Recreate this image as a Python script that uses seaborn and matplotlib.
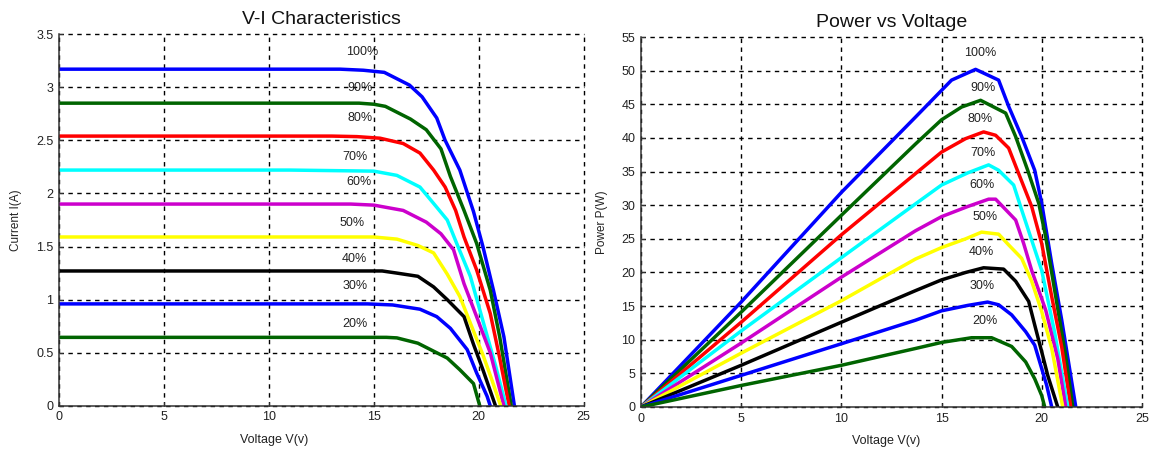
import numpy as np
import pandas as pd
import matplotlib
matplotlib.use("Agg")
import matplotlib.pyplot as plt
import seaborn as sns

# ---------------- data ----------------
levels = ["100%", "90%", "80%", "70%", "60%", "50%", "40%", "30%", "20%"]
colors = ["#0000ff", "#006400", "#ff0000", "#00ffff", "#cc00cc",
          "#ffff00", "#000000", "#0000ff", "#006400"]

# V-I characteristics (voltage V, current A)
vi_v_100 = [0, 13.4, 14.5, 15.5, 16.1, 16.7, 17.3, 18.0, 18.4, 19.1, 19.75, 20.2, 20.7, 21.2, 21.7]
vi_i_100 = [3.17, 3.17, 3.16, 3.14, 3.08, 3.02, 2.91, 2.71, 2.50, 2.22, 1.83, 1.50, 1.09, 0.65, 0.0]
vi_v_90 = [0, 14.3, 15.0, 15.55, 16.75, 17.5, 18.2, 18.65, 19.3, 19.9, 20.55, 21.0, 21.55]
vi_i_90 = [2.85, 2.85, 2.84, 2.82, 2.70, 2.60, 2.42, 2.16, 1.84, 1.53, 1.09, 0.65, 0.0]
vi_v_80 = [0, 13.0, 14.2, 15.3, 16.4, 17.2, 17.85, 18.4, 18.9, 19.3, 19.9, 20.55, 21.0, 21.45]
vi_i_80 = [2.54, 2.54, 2.535, 2.52, 2.47, 2.38, 2.22, 2.06, 1.84, 1.59, 1.28, 0.87, 0.45, 0.0]
vi_v_70 = [0, 11.0, 15.0, 16.1, 17.2, 18.0, 18.5, 18.95, 19.6, 20.2, 20.8, 21.3]
vi_i_70 = [2.22, 2.22, 2.21, 2.17, 2.06, 1.87, 1.75, 1.53, 1.22, 0.80, 0.38, 0.0]
vi_v_60 = [0, 13.9, 15.0, 16.4, 17.5, 18.2, 18.8, 19.3, 19.9, 20.55, 21.2]
vi_i_60 = [1.90, 1.90, 1.89, 1.84, 1.73, 1.62, 1.47, 1.15, 0.84, 0.50, 0.0]
vi_v_50 = [0, 15.0, 16.1, 17.1, 17.85, 18.5, 19.1, 19.6, 20.2, 20.6, 21.05]
vi_i_50 = [1.59, 1.59, 1.57, 1.51, 1.44, 1.24, 1.03, 0.78, 0.48, 0.26, 0.0]
vi_v_40 = [0, 15.4, 16.1, 17.1, 17.85, 18.5, 19.3, 19.75, 20.2, 20.8]
vi_i_40 = [1.27, 1.27, 1.25, 1.22, 1.12, 1.00, 0.84, 0.58, 0.34, 0.0]
vi_v_30 = [0, 14.7, 15.9, 17.2, 18.0, 18.65, 19.45, 19.9, 20.4, 20.55]
vi_i_30 = [0.96, 0.96, 0.95, 0.91, 0.84, 0.73, 0.53, 0.31, 0.09, 0.0]
vi_v_20 = [0, 15.6, 16.1, 17.1, 17.7, 18.5, 19.1, 19.75, 20.05]
vi_i_20 = [0.645, 0.645, 0.64, 0.59, 0.53, 0.45, 0.34, 0.21, 0.0]

# P-V characteristics (voltage V, power W)
pv_v_100 = [0, 5, 10, 13.7, 15.5, 16.7, 17.85, 18.35, 19.0, 19.65, 20.0, 20.5, 21.0, 21.7]
pv_p_100 = [0, 15.6, 31.9, 43.1, 48.6, 50.2, 48.6, 44.7, 40.2, 35.2, 30.3, 21.3, 12.9, 0]
pv_v_90 = [0, 5, 10, 13.7, 15.0, 16.0, 16.95, 18.2, 18.7, 19.3, 19.85, 20.2, 20.7, 21.2, 21.55]
pv_p_90 = [0, 14.1, 28.5, 39.1, 42.7, 44.6, 45.6, 43.7, 40.2, 35.2, 30.3, 25.3, 16.4, 7.5, 0]
pv_v_80 = [0, 5, 10, 13.7, 15, 16.2, 17.1, 17.7, 18.35, 18.85, 19.5, 20.0, 20.5, 21.0, 21.45]
pv_p_80 = [0, 12.6, 25.6, 34.7, 37.9, 39.9, 40.9, 40.4, 38.5, 34.7, 29.8, 24.3, 16.4, 8.9, 0]
pv_v_70 = [0, 5, 10, 13.7, 15, 16.3, 17.35, 17.85, 18.6, 19.0, 19.5, 20.0, 20.65, 21.3]
pv_p_70 = [0, 11.3, 22.2, 30.2, 33.0, 34.8, 36.0, 35.2, 33.0, 29.3, 24.8, 20.3, 11.0, 0]
pv_v_60 = [0, 5, 10, 13.7, 15, 16.3, 17.35, 17.7, 18.7, 19.1, 19.5, 20.2, 20.8, 21.2]
pv_p_60 = [0, 9.5, 19.3, 26.2, 28.3, 29.8, 30.9, 30.9, 27.8, 24.3, 20.3, 14.4, 7.2, 0]
pv_v_50 = [0, 5, 10, 13.7, 15, 16.2, 17.0, 17.85, 18.35, 19.0, 19.5, 20.0, 20.5, 21.05]
pv_p_50 = [0, 8.0, 15.8, 22.0, 23.7, 25.0, 26.0, 25.7, 24.1, 22.1, 18.7, 14.2, 8.7, 0]
pv_v_40 = [0, 5, 10, 13.7, 15, 16.2, 17.1, 18.1, 18.7, 19.35, 19.65, 20.0, 20.3, 20.8]
pv_p_40 = [0, 6.2, 12.6, 17.3, 18.9, 20.0, 20.7, 20.5, 18.7, 15.7, 12.2, 8.2, 4.7, 0]
pv_v_30 = [0, 5, 10, 13.7, 15, 16.3, 17.3, 17.85, 18.5, 19.2, 19.65, 20.0, 20.25, 20.5]
pv_p_30 = [0, 4.7, 9.4, 12.9, 14.3, 15.1, 15.6, 15.2, 13.7, 11.2, 9.2, 5.7, 3.2, 0]
pv_v_20 = [0, 5, 10, 13.7, 15, 16.5, 17.5, 18.5, 19.2, 19.65, 20.0, 20.15]
pv_p_20 = [0, 3.2, 6.2, 8.7, 9.6, 10.3, 10.3, 9.0, 6.7, 4.2, 1.7, 0]

# curve label anchor positions (data coords)
vi_label_v = [14.45, 14.35, 14.35, 14.1, 14.3, 13.95, 14.05, 14.1, 14.1]
vi_label_i = [3.33, 2.99, 2.71, 2.34, 2.11, 1.72, 1.38, 1.13, 0.77]
pv_label_v = [16.95, 17.05, 16.9, 17.05, 17.0, 17.15, 17.0, 17.05, 17.15]
pv_label_p = [52.7, 47.4, 42.8, 37.8, 33.0, 28.3, 23.1, 18.0, 12.8]

vi_v = [vi_v_100, vi_v_90, vi_v_80, vi_v_70, vi_v_60, vi_v_50, vi_v_40, vi_v_30, vi_v_20]
vi_i = [vi_i_100, vi_i_90, vi_i_80, vi_i_70, vi_i_60, vi_i_50, vi_i_40, vi_i_30, vi_i_20]
pv_v = [pv_v_100, pv_v_90, pv_v_80, pv_v_70, pv_v_60, pv_v_50, pv_v_40, pv_v_30, pv_v_20]
pv_p = [pv_p_100, pv_p_90, pv_p_80, pv_p_70, pv_p_60, pv_p_50, pv_p_40, pv_p_30, pv_p_20]

vi_df = pd.concat([pd.DataFrame({"V": v, "I": i, "level": lv})
                   for v, i, lv in zip(vi_v, vi_i, levels)], ignore_index=True)
pv_df = pd.concat([pd.DataFrame({"V": v, "P": p, "level": lv})
                   for v, p, lv in zip(pv_v, pv_p, levels)], ignore_index=True)

# ---------------- style ----------------
sns.set_theme(style="white")
plt.rcParams["font.family"] = ["Liberation Sans", "DejaVu Sans"]
plt.rcParams["axes.unicode_minus"] = False

fig = plt.figure(figsize=(11.58, 4.55), dpi=100)
ax1 = fig.add_axes([0.051, 0.108, 0.453, 0.817])
ax2 = fig.add_axes([0.5535, 0.1055, 0.4326, 0.813])

palette = dict(zip(levels, colors))
text_col = "#222222"


def style_axes(ax, xticks, yticks, ylim, ylabel, title, xlabel_x):
    ax.set_xlim(0, 25)
    ax.set_ylim(*ylim)
    ax.set_xticks(xticks)
    ax.set_yticks(yticks)
    ax.set_xticklabels([f"{t:g}" for t in xticks])
    ax.set_yticklabels([f"{t:g}" for t in yticks])
    ax.grid(True, color="black", linestyle=(0, (3.2, 3.2)), linewidth=1.0)
    ax.set_axisbelow(False)
    for gl in ax.get_xgridlines() + ax.get_ygridlines():
        gl.set_clip_on(False)
    for s in ["top", "right"]:
        ax.spines[s].set_visible(False)
    for s in ["left", "bottom"]:
        ax.spines[s].set_visible(True)
        ax.spines[s].set_color("#333333")
        ax.spines[s].set_linewidth(1.1)
        ax.spines[s].set_zorder(5)
    ax.tick_params(direction="in", length=3, width=0.8, colors="#333333",
                   labelsize=9, labelcolor=text_col, pad=4)
    ax.tick_params(left=True, bottom=True)
    ax.set_xlabel("Voltage V(v)", fontsize=9, color=text_col, labelpad=9)
    ax.xaxis.set_label_coords(xlabel_x, -0.075)
    ax.set_ylabel(ylabel, fontsize=8.5, color=text_col, labelpad=10)
    ax.set_title(title, fontsize=14, color="#111111", pad=7)


sns.lineplot(data=vi_df, x="V", y="I", hue="level", hue_order=levels,
             palette=palette, estimator=None, sort=False, linewidth=2.5,
             ax=ax1, legend=False, zorder=3)
sns.lineplot(data=pv_df, x="V", y="P", hue="level", hue_order=levels,
             palette=palette, estimator=None, sort=False, linewidth=2.5,
             ax=ax2, legend=False, zorder=3)

style_axes(ax1, [0, 5, 10, 15, 20, 25], [0, 0.5, 1, 1.5, 2, 2.5, 3, 3.5],
           (0, 3.5), "Current I(A)", "V-I Characteristics", 0.41)
style_axes(ax2, [0, 5, 10, 15, 20, 25], list(range(0, 60, 5)),
           (0, 55), "Power P(W)", "Power vs Voltage", 0.49)

for lv, x, y in zip(levels, vi_label_v, vi_label_i):
    ax1.text(x, y, lv, fontsize=9, color=text_col, ha="center", va="center", zorder=4)
for lv, x, y in zip(levels, pv_label_v, pv_label_p):
    ax2.text(x, y, lv, fontsize=9, color=text_col, ha="center", va="center", zorder=4)

fig.savefig("out.png", dpi=100)
